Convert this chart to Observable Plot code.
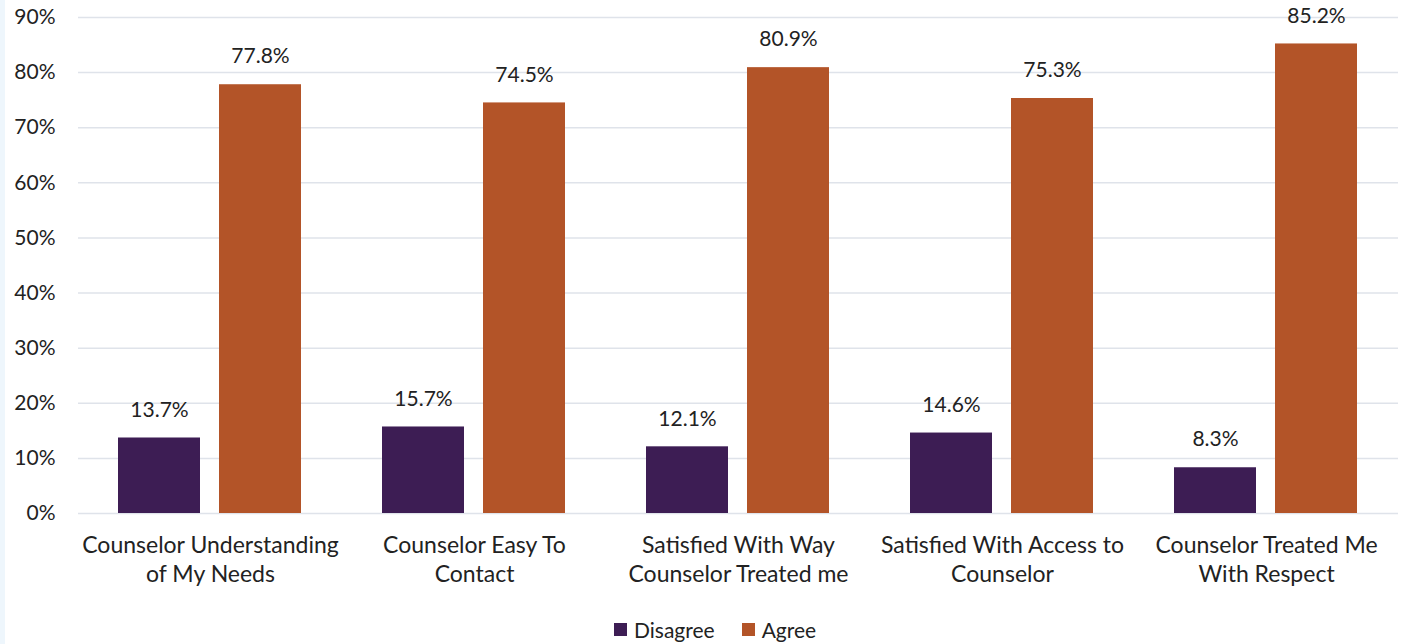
<!DOCTYPE html>
<html><head><meta charset="utf-8">
<script src="https://cdn.jsdelivr.net/npm/d3@7"></script>
<script src="https://cdn.jsdelivr.net/npm/@observablehq/plot@0.6"></script>
<style>
body{margin:0;background:#fff;font-family:Lato,"Noto Sans",sans-serif;color:#222;}
#wrap{position:relative;width:1411px;height:644px;overflow:hidden;background:#fff;}
#strip{position:absolute;left:0;top:0;width:5px;height:644px;background:#eef6fc;}
#chart{position:absolute;left:0;top:0;}
#legend{position:absolute;left:614px;top:617px;display:flex;align-items:center;font-size:21px;white-space:nowrap;}
#legend .sw{display:inline-block;width:13px;height:13px;margin-right:7px;}
#legend .item{display:flex;align-items:center;margin-right:27px;}
</style>
</head><body>
<div id="wrap"><div id="strip"></div><div id="chart"></div><div id="legend"></div></div>
<script>
const categories = ["Counselor Understanding of My Needs","Counselor Easy To Contact","Satisfied With Way Counselor Treated me","Satisfied With Access to Counselor","Counselor Treated Me With Respect"];
const categoryLabels = ["Counselor Understanding\nof My Needs","Counselor Easy To\nContact","Satisfied With Way\nCounselor Treated me","Satisfied With Access to\nCounselor","Counselor Treated Me\nWith Respect"];
const series = ["Disagree","Agree"];
const seriesColors = ["#3d1d54","#b35428"];
const disagreeValues = [13.7,15.7,12.1,14.6,8.3];
const agreeValues = [77.8,74.5,80.9,75.3,85.2];
const yTicks = [0,10,20,30,40,50,60,70,80,90];

const data = [];
categories.forEach((c,i)=>{
  data.push({category:c, series:"Disagree", value:disagreeValues[i]});
  data.push({category:c, series:"Agree", value:agreeValues[i]});
});
const labelOf = new Map(categories.map((c,i)=>[c,categoryLabels[i]]));

const chart = Plot.plot({
  width:1411, height:600,
  marginLeft:76, marginRight:11, marginTop:17, marginBottom:87,
  style:{fontFamily:"Lato, 'Noto Sans', sans-serif", fontSize:"20px", color:"#222", background:"transparent", overflow:"visible"},
  fx:{domain:categories, padding:0, label:null, axis:null},
  x:{domain:series, paddingInner:0.188, paddingOuter:0.4, axis:null},
  y:{domain:[0,90], label:null},
  color:{domain:series, range:seriesColors},
  marks:[
    Plot.gridY(yTicks, {stroke:"#dfe3ea", strokeOpacity:1, strokeWidth:1.5}),
    Plot.barY(data, {fx:"category", x:"series", y:"value", fill:"series"}),
    Plot.text(data, {fx:"category", x:"series", y:"value", text:d=>d.value.toFixed(1)+"%", dy:-28, fontSize:21, fill:"#222"}),
    Plot.axisY(yTicks, {tickSize:0, tickPadding:23, tickFormat:d=>d+"%", fontSize:21, label:null}),
    Plot.axisFx({anchor:"bottom", tickSize:0, tickPadding:19, tickFormat:d=>labelOf.get(d), fontSize:23, lineHeight:1.25, label:null})
  ]
});
document.getElementById("chart").appendChild(chart);

const lg = document.getElementById("legend");
series.forEach((s,i)=>{
  const it = document.createElement("div"); it.className="item";
  const sw = document.createElement("span"); sw.className="sw"; sw.style.background=seriesColors[i];
  it.appendChild(sw); it.appendChild(document.createTextNode(s)); lg.appendChild(it);
});
</script>
</body></html>
